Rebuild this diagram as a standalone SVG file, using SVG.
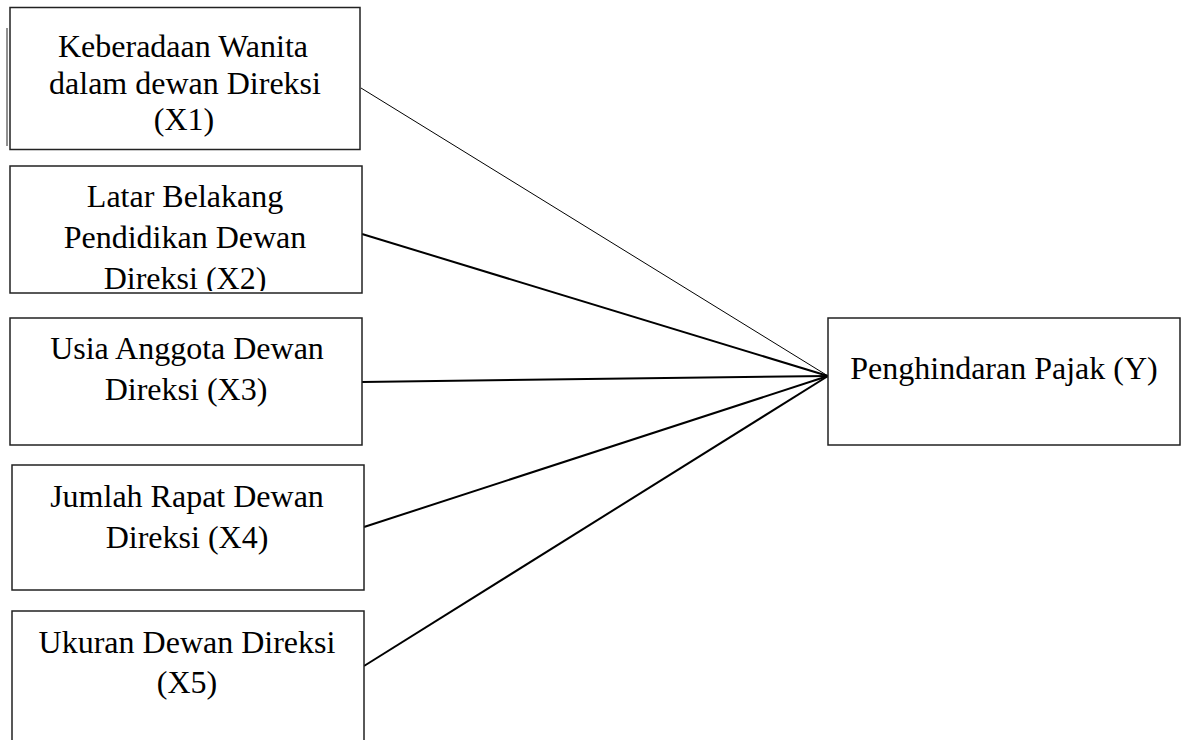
<svg xmlns="http://www.w3.org/2000/svg" width="1187" height="740" viewBox="0 0 1187 740">
<style>
.box{fill:#fff;stroke:#222;stroke-width:1.5}
.t{font-family:"Liberation Serif","Times New Roman",serif;font-size:32px;fill:#000;text-anchor:middle}
.c{stroke:#000;fill:none}
</style>
<defs>
<clipPath id="clip2"><rect x="10" y="166" width="352" height="125"/></clipPath>
</defs>
<rect width="1187" height="740" fill="#fff"/>
<g id="connectors">
<line class="c" x1="361" y1="88" x2="828" y2="376" stroke-width="1"/>
<line class="c" x1="362" y1="234" x2="828" y2="376" stroke-width="2"/>
<line class="c" x1="362" y1="382" x2="828" y2="376" stroke-width="2"/>
<line class="c" x1="364" y1="527" x2="828" y2="376" stroke-width="2"/>
<line class="c" x1="364" y1="666" x2="828" y2="376" stroke-width="2"/>
</g>
<g id="x1">
<line x1="7" y1="28" x2="7" y2="146" stroke="#222" stroke-width="1"/>
<rect class="box" x="10" y="7.5" width="350" height="142"/>
<text class="t" x="183" y="57">Keberadaan Wanita</text>
<text class="t" x="185" y="93.5">dalam dewan Direksi</text>
<text class="t" x="184" y="130">(X1)</text>
</g>
<g id="x2">
<rect class="box" x="10" y="166" width="352" height="127"/>
<g clip-path="url(#clip2)">
<text class="t" x="185" y="207">Latar Belakang</text>
<text class="t" x="185" y="248">Pendidikan Dewan</text>
<text class="t" x="185" y="289">Direksi (X2)</text>
</g>
</g>
<g id="x3">
<rect class="box" x="10" y="318" width="352" height="127"/>
<text class="t" x="187" y="359">Usia Anggota Dewan</text>
<text class="t" x="186" y="400">Direksi (X3)</text>
</g>
<g id="x4">
<rect class="box" x="12" y="465" width="352" height="125"/>
<text class="t" x="187" y="507">Jumlah Rapat Dewan</text>
<text class="t" x="187" y="548">Direksi (X4)</text>
</g>
<g id="x5">
<rect class="box" x="12" y="611" width="352" height="140"/>
<text class="t" x="187" y="653">Ukuran Dewan Direksi</text>
<text class="t" x="187" y="693">(X5)</text>
</g>
<g id="y">
<rect class="box" x="828" y="318" width="352" height="127"/>
<text class="t" x="1004" y="379">Penghindaran Pajak (Y)</text>
</g>
</svg>
